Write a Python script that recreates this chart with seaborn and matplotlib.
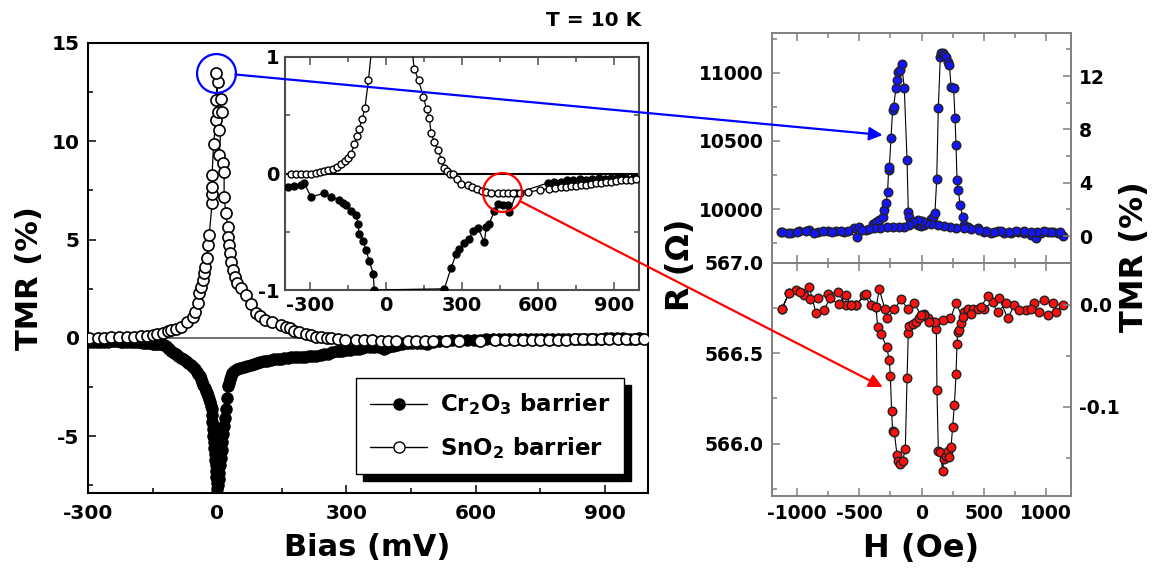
import matplotlib
matplotlib.use("Agg")
import matplotlib.pyplot as plt
import seaborn as sns
from matplotlib.lines import Line2D
from matplotlib.patches import ConnectionPatch, Rectangle
from matplotlib.ticker import MultipleLocator

# bias dependence of TMR at T = 10 K, main panel (dense band of points)
cr_bias = [-388, -364, -350, -337, -325, -310, -297, -288, -280, -271, -262, -253, -245,
           -237, -230, -224, -218, -209, -200, -193, -186, -179, -172, -165, -158, -154,
           -150, -144, -139, -133, -128, -123, -119, -115, -111,
           -107, -100, -95, -90, -84, -79, -73, -68, -62, -57, -52, -48, -44, -41, -38,
           -35, -32, -29, -26, -24, -22, -20, -17, -15, -13, -12, -11, -10, -9, -8, -7,
           -6, -5, -4, -3, -2, -1, 0,
           0, 1, 2, 2, 3, 4, 4,
           6, 8, 10, 12, 14, 16, 18, 20, 22, 24, 27, 29, 32, 35, 40, 45, 53, 62, 70, 79,
           86, 93,
           100, 108, 116, 124, 132, 140, 148, 156, 164, 172, 180, 188, 196, 204, 212, 221,
           230, 240, 249, 257, 267, 277, 283, 289, 299, 309, 319, 329, 337, 344, 354, 364,
           376, 388, 396, 402, 408, 418, 428, 436, 443, 453, 463, 473, 483, 487, 500, 515,
           530, 545, 562, 580, 595, 610, 625, 641, 653, 665, 678, 690, 703, 715, 728, 740,
           752, 765, 778, 790, 803, 815, 828, 840, 853, 865, 878, 890, 903, 915, 929, 943,
           958, 970, 980]
cr_tmr = [-0.12, -0.11, -0.12, -0.10, -0.08, -0.15, -0.20, -0.21, -0.22, -0.23, -0.24,
          -0.20, -0.17, -0.18, -0.19, -0.20, -0.20, -0.21, -0.22, -0.23, -0.23, -0.24,
          -0.25, -0.26, -0.27, -0.29, -0.30, -0.31, -0.32, -0.33, -0.34, -0.38, -0.42,
          -0.50, -0.58,
          -0.66, -0.76, -0.84, -0.92, -1.02, -1.10, -1.18, -1.27, -1.38, -1.48, -1.6,
          -1.72, -1.85, -1.97, -2.1, -2.25, -2.4, -2.55, -2.7, -2.8, -2.95, -3.1, -3.25,
          -3.45, -3.65, -3.95, -4.3, -4.65, -5.0, -5.3, -5.6, -5.9, -6.2, -6.5, -6.8,
          -7.1, -7.4, -7.7,
          -5.2, -7.5, -4.6, -6.3, -7.2, -5.6, -6.9,
          -6.5, -6.1, -5.7, -5.3, -4.9, -4.5, -4.1, -3.65, -3.05, -2.47, -2.3, -2.1,
          -1.95, -1.8, -1.7, -1.6, -1.53, -1.47, -1.42, -1.37, -1.32, -1.27,
          -1.23, -1.19, -1.16, -1.13, -1.10, -1.08, -1.06, -1.04, -1.02, -1.0, -0.99,
          -0.98, -0.97, -0.96, -0.95, -0.94, -0.92, -0.88, -0.84, -0.81, -0.75, -0.69,
          -0.67, -0.65, -0.62, -0.60, -0.58, -0.56, -0.52, -0.49, -0.48, -0.47, -0.46,
          -0.59, -0.46, -0.44, -0.43, -0.38, -0.32, -0.29, -0.26, -0.27, -0.27, -0.27,
          -0.27, -0.33, -0.22, -0.17, -0.14, -0.12, -0.11, -0.10, -0.095, -0.09,
          -0.085, -0.08, -0.075, -0.07, -0.07, -0.07, -0.065, -0.06, -0.06, -0.06,
          -0.055, -0.05, -0.055, -0.06, -0.055, -0.05, -0.045, -0.04, -0.045, -0.05,
          -0.045, -0.04, -0.035, -0.03, -0.03, -0.03, -0.05, -0.04, -0.03]

# the same Cr2O3 curve (sparser points)
inset_cr_bias = [-388, -364, -337, -325, -297, -245, -218, -186, -172, -158, -139, -119,
                 -111, -107, -91, -79, -67, -51, -47, 230, 257, 277, 289, 309, 329, 344,
                 364, 388, 396, 408, 428, 443, 463, 483, 487, 515, 641, 665, 690, 715,
                 740, 765, 790, 815, 840, 865, 890, 915, 943, 980]
inset_cr_tmr = [-0.12, -0.11, -0.10, -0.08, -0.20, -0.17, -0.20, -0.23, -0.25, -0.27,
                -0.32, -0.36, -0.43, -0.52, -0.58, -0.66, -0.75, -0.86, -1.0, -0.99,
                -0.81, -0.69, -0.65, -0.60, -0.56, -0.49, -0.47, -0.59, -0.46, -0.43,
                -0.32, -0.26, -0.27, -0.27, -0.33, -0.17, -0.08, -0.07, -0.07, -0.06,
                -0.06, -0.05, -0.06, -0.05, -0.04, -0.05, -0.04, -0.03, -0.03, -0.03]

sn_bias = [-376, -356, -337, -317, -297, -277, -262, -246, -228, -210, -194, -178, -164,
           -150, -139, -126, -115, -107, -95, -84, -70, -57, -51, -45.5, -41.6, -37.7,
           -34, -30, -27.7, -24.6, -20.8, -18.5, -12, -12, -11, -12, -8.5, -3, 0.8, -3,
           0.8, -3, 4.6, 8.5, 11, 4.6, 12.3, 16, 16, 20, 24, 25.4, 27.7, 30, 33, 37,
           41.6, 47, 54.7, 66, 78, 89, 100, 111, 128, 147, 160, 170, 178, 190, 206, 218,
           230, 242, 254, 263, 280, 297, 323, 340, 360, 380, 396, 416, 442, 462, 482, 501,
           531, 562, 610, 645, 668, 690, 710, 730, 750, 770, 790, 810, 830, 850, 870, 890,
           910, 930, 950, 970, 990]
sn_tmr = [0.0, 0.0, 0.0, 0.0, 0.0, 0.005, 0.01, 0.02, 0.03, 0.04, 0.06, 0.085, 0.11,
          0.13, 0.17, 0.25, 0.32, 0.38, 0.47, 0.56, 0.8, 1.08, 1.3, 1.76, 2.27, 2.6,
          2.94, 3.28, 3.62, 4.04, 4.72, 5.23, 6.84, 7.34, 7.68, 8.27, 9.88, 11.07, 11.49,
          12.08, 13.0, 13.49, 10.56, 12.17, 11.49, 9.29, 8.87, 8.44, 7.17, 6.33, 5.65,
          5.14, 4.72, 4.3, 3.87, 3.45, 3.11, 2.78, 2.52, 2.18, 1.7, 1.25, 1.1, 0.9, 0.8,
          0.66, 0.55, 0.48, 0.35, 0.27, 0.2, 0.12, 0.05, 0.02, 0.0, 0.0, -0.05, -0.09,
          -0.1, -0.12, -0.13, -0.15, -0.16, -0.165, -0.165, -0.165, -0.165, -0.165,
          -0.165, -0.16, -0.14, -0.13, -0.125, -0.12, -0.115, -0.11, -0.105, -0.1, -0.095,
          -0.09, -0.085, -0.08, -0.075, -0.07, -0.065, -0.06, -0.06, -0.055, -0.05]

# R(H) loops at T = 10 K, field swept up and then back down
sn_field = [-1128, -1048, -981, -901, -834, -754, -687, -620, -539, -499, -446, -392,
            -365, -339, -312, -299, -285, -272, -264, -258, -245, -232, -224, -205, -196,
            -186, -175, -159, -138, -116, -106, -98, -84, -58, -31, -4, 23, 50, 76, 90,
            108, 122, 135, 151, 157, 170, 183, 197, 210, 224, 237, 258, 269, 277, 285,
            296, 309, 331, 344, 371, 451, 504, 558, 612, 665, 719, 772, 826, 879, 920,
            960, 1013, 1054, 1094, 1134,
            1110, 1040, 985, 930, 880, 820, 760, 700, 640, 580, 520, 460, 400, 340, 280,
            230, 180, 130, 80, 40, 5, -30, -65, -100, -140, -180, -230, -280, -330, -380,
            -420, -480, -520, -590, -650, -720, -790, -860, -930, -1000, -1070, -1120]
sn_res = [9828, 9821, 9841, 9846, 9833, 9841, 9841, 9828, 9858, 9865, 9846, 9890, 9907,
          9919, 9944, 9993, 10042, 10127, 10287, 10311, 10520, 10728, 10752, 10887,
          10949, 11010, 11022, 11064, 10887, 10360, 9980, 9944, 9907, 9895, 9882, 9875,
          9882, 9907, 9924, 9944, 9973, 10218, 10740, 11120, 11150, 11145, 11132, 11120,
          11083, 11059, 10900, 10887, 10667, 10471, 10213, 10140, 10029, 9944, 9882,
          9870, 9858, 9833, 9821, 9841, 9821, 9821, 9833, 9821, 9809, 9784, 9821, 9828,
          9828, 9821, 9805,
          9828, 9833, 9840, 9828, 9833, 9836, 9840, 9833, 9840, 9828, 9836, 9845, 9850,
          9858, 9862, 9868, 9872, 9880, 9890, 9900, 9910, 9920, 9905, 9880, 9870, 9868,
          9867, 9866, 9862, 9860, 9850, 9845, 9792, 9835, 9838, 9830, 9836, 9826, 9838,
          9832, 9826, 9830]

cr_field = [-1123, -1062, -1008, -941, -893, -829, -748, -673, -606, -566, -526, -459,
            -406, -365, -352, -325, -280, -258, -250, -240, -232, -218, -197, -186, -170,
            -151, -130, -116, -106, -98, -71, -44, -17, 23, 50, 90, 108, 119, 124, 135,
            151, 170, 178, 197, 210, 224, 237, 250, 264, 277, 285, 290, 304, 317, 344,
            371, 411, 451, 504, 571, 625, 692, 745, 839, 906, 987, 1054, 1134,
            1081, 1013, 946, 879, 786, 679, 612, 531, 478, 397, 330, 277, 232, 170, 108,
            63, 23, -4, -58, -106, -165, -218, -277, -293, -339, -365, -446, -526, -566,
            -606, -665, -732, -786, -847, -901, -973, -1062, -1123]
cr_res = [566.743, 566.835, 566.850, 566.822, 566.798, 566.804, 566.831, 566.837, 566.767,
          566.767, 566.767, 566.822, 566.767, 566.754, 566.646, 566.609, 566.535,
          566.461, 566.372, 566.183, 566.072, 566.063, 565.939, 565.906, 565.887,
          565.906, 565.970, 566.363, 566.613, 566.650, 566.665, 566.674, 566.693,
          566.720, 566.693, 566.674, 566.669, 566.637, 566.298, 565.961, 565.952,
          565.850, 565.915, 565.933, 565.961, 565.924, 565.980, 566.094, 566.215,
          566.383, 566.554, 566.619, 566.631, 566.669, 566.730, 566.748, 566.743,
          566.748, 566.748, 566.785, 566.804, 566.693, 566.767, 566.739, 566.776,
          566.794, 566.776, 566.767,
          566.730, 566.711, 566.730, 566.743, 566.739, 566.776, 566.730, 566.817,
          566.757, 566.720, 566.700, 566.776, 566.693, 566.683, 566.674, 566.674,
          566.711, 566.711, 566.776, 566.743, 566.798, 566.743, 566.693, 566.743,
          566.854, 566.754, 566.831, 566.767, 566.767, 566.822, 566.772, 566.804,
          566.739, 566.724, 566.869, 566.837, 566.835, 566.743]

series_labels = ["Cr$\\mathregular{_2}$O$\\mathregular{_3}$ barrier",
                 "SnO$\\mathregular{_2}$ barrier"]
bias_ticks = [-300, 0, 300, 600, 900]
field_ticks = [-1000, -500, 0, 500, 1000]

# spots picked out by the circles / arrows
peak_spot = (max(zip(sn_tmr, sn_bias))[1], max(sn_tmr))
plateau_spot = (460, -0.16)
sn_arrow_end = (-312, 10544)
cr_arrow_end = (-312, 566.313)

W, H = 1154, 569
sns.set_theme(style="ticks")
plt.rcParams.update({
    "font.family": ["DejaVu Sans"],
    "font.weight": "bold",
    "axes.labelweight": "bold",
    "mathtext.fontset": "dejavusans",
    "axes.unicode_minus": False,
    "text.color": "black",
    "axes.labelcolor": "black",
    "xtick.color": "black",
    "ytick.color": "black",
    "xtick.direction": "in",
    "ytick.direction": "in",
})


def box(x0, y0, x1, y1):
    return [x0 / W, 1 - y1 / H, (x1 - x0) / W, (y1 - y0) / H]


def draw(ax, x, y, face, ms, mew=1.0, lw=0.9, edge="black", zorder=3):
    sns.lineplot(x=x, y=y, ax=ax, sort=False, estimator=None, color="black", lw=lw,
                 marker="o", markersize=ms, markerfacecolor=face, markeredgecolor=edge,
                 markeredgewidth=mew, zorder=zorder, legend=False)


def style_frame(ax, color, lw):
    for s in ax.spines.values():
        s.set_color(color)
        s.set_linewidth(lw)
    ax.tick_params(which="both", colors=color, labelcolor="black", width=1.1)
    ax.tick_params(which="major", length=6)
    ax.tick_params(which="minor", length=3.5)


fig = plt.figure(figsize=(W / 100, H / 100), dpi=100)

# ---- main panel ----
ax = fig.add_axes(box(88, 43, 648, 493))
ax.axhline(0, color="0.35", lw=1.2, zorder=1)
draw(ax, cr_bias, cr_tmr, "black", 8, zorder=3)
draw(ax, sn_bias, sn_tmr, "white", 8, mew=1.2, zorder=4)
ax.set_xlim(-300, 1000)
ax.set_ylim(-7.9, 15)
ax.set_xticks(bias_ticks)
ax.set_yticks([-5, 0, 5, 10, 15])
ax.xaxis.set_minor_locator(MultipleLocator(150))
ax.yaxis.set_minor_locator(MultipleLocator(2.5))
ax.set_xlabel("")
ax.set_ylabel("")
style_frame(ax, "black", 1.5)
ax.tick_params(labelsize=14.5)
ax.tick_params(axis="x", pad=8)
ax.tick_params(axis="y", pad=6)
ax.plot(*peak_spot, "o", ms=28, mfc="none", mec="blue", mew=1.6, zorder=6)

handles = [Line2D([], [], color="black", lw=1, marker="o", ms=8, mfc=c, mec="black")
           for c in ["black", "white"]]
leg = ax.legend(handles, series_labels, loc="upper left", bbox_to_anchor=(0.479, 0.256),
                borderaxespad=0, fontsize=16.5, frameon=True, fancybox=False,
                framealpha=1, edgecolor="black", handlelength=2.5, borderpad=0.6,
                labelspacing=0.75, handletextpad=0.55)
leg.get_frame().set_linewidth(1.0)
fig.canvas.draw()
lb = leg.get_window_extent().transformed(ax.transAxes.inverted())
ax.add_patch(Rectangle((lb.x0 + 7 / 560, lb.y0 - 7 / 450), lb.width, lb.height,
                       transform=ax.transAxes, color="black", zorder=4.5, clip_on=False))

# ---- inset ----
ins = fig.add_axes(box(285, 57, 639, 290))
ins.axhline(0, color="black", lw=1.5, zorder=1)
draw(ins, inset_cr_bias, inset_cr_tmr, "black", 5, zorder=3)
draw(ins, sn_bias, sn_tmr, "white", 5, mew=1.0, zorder=4)
ins.set_xlim(-400, 1000)
ins.set_ylim(-1, 1)
ins.set_xticks(bias_ticks)
ins.set_yticks([-1, 0, 1])
ins.xaxis.set_minor_locator(MultipleLocator(150))
ins.yaxis.set_minor_locator(MultipleLocator(0.5))
ins.set_xlabel("")
ins.set_ylabel("")
style_frame(ins, "0.3", 1.5)
ins.tick_params(which="both", top=True, right=True, labelsize=14, pad=4)
ins.plot(*plateau_spot, "o", ms=28, mfc="none", mec="red", mew=1.6, zorder=6)

# ---- R(H) loops ----
axt = fig.add_axes(box(772, 33, 1071, 263))
axb = fig.add_axes(box(772, 263, 1071, 496))
draw(axt, sn_field, sn_res, "#1414ff", 6.2, lw=0.8, edge="#222222")
draw(axb, cr_field, cr_res, "#ff1010", 6.2, lw=0.8, edge="#222222")
for a in (axt, axb):
    a.set_xlim(-1200, 1200)
    a.set_xticks(field_ticks)
    a.xaxis.set_minor_locator(MultipleLocator(250))
    a.set_xlabel("")
    a.set_ylabel("")
    style_frame(a, "0.5", 1.2)
    a.tick_params(which="both", top=True, labelsize=13.5, pad=6)
axt.tick_params(labelbottom=False)
axt.set_ylim(9603, 11294)
axt.set_yticks([10000, 10500, 11000])
axt.yaxis.set_minor_locator(MultipleLocator(250))
axb.set_ylim(565.71, 567.0)
axb.set_yticks([566.0, 566.5, 567.0])
axb.set_yticklabels(["566.0", "566.5", "567.0"])
axb.yaxis.set_minor_locator(MultipleLocator(0.25))

twt = axt.twinx()
twt.set_ylim(-2.02, 15.23)
twt.set_yticks([0, 4, 8, 12])
twt.yaxis.set_minor_locator(MultipleLocator(2))
twb = axb.twinx()
twb.set_ylim(-0.187, 0.0406)
twb.set_yticks([-0.1, 0.0])
twb.set_yticklabels(["-0.1", "0.0"])
twb.yaxis.set_minor_locator(MultipleLocator(0.05))
for a in (twt, twb):
    style_frame(a, "0.5", 1.2)
    a.tick_params(which="both", labelsize=13.5, pad=6)
    a.grid(False)

# ---- arrows ----
fig.add_artist(ConnectionPatch(peak_spot, sn_arrow_end, coordsA=ax.transData,
                               coordsB=axt.transData, arrowstyle="-|>", color="blue",
                               lw=1.6, shrinkA=14, shrinkB=0, mutation_scale=20, zorder=10))
fig.add_artist(ConnectionPatch(plateau_spot, cr_arrow_end, coordsA=ins.transData,
                               coordsB=axb.transData, arrowstyle="-|>", color="red",
                               lw=1.6, shrinkA=14, shrinkB=0, mutation_scale=20, zorder=10))

# ---- labels ----
fig.text(30 / W, 1 - 278 / H, "TMR (%)", rotation=90, ha="center", va="center", fontsize=22)
fig.text(367 / W, 1 - 548 / H, "Bias (mV)", ha="center", va="center", fontsize=22)
fig.text(594 / W, 1 - 21 / H, "T = 10 K", ha="center", va="center", fontsize=14.5)
fig.text(680 / W, 1 - 265 / H, "R (\u03a9)", rotation=90, ha="center", va="center", fontsize=23)
fig.text(1134 / W, 1 - 257 / H, "TMR (%)", rotation=90, ha="center", va="center", fontsize=23)
fig.text(921 / W, 1 - 548 / H, "H (Oe)", ha="center", va="center", fontsize=23)

fig.savefig("out.png", dpi=100)
